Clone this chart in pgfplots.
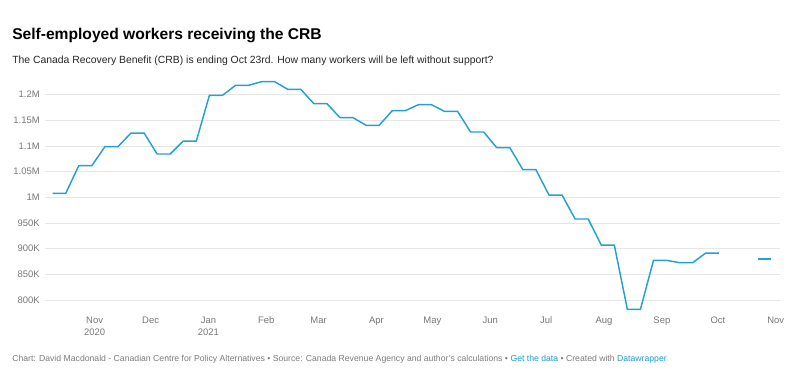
\documentclass[border=0pt]{standalone}
\usepackage{pgfplots}
\pgfplotsset{compat=1.18}
\usepackage{fontspec}
\setmainfont{Liberation Sans}
\definecolor{dwblue}{RGB}{38,160,212}
\definecolor{linkblue}{RGB}{30,155,215}
\definecolor{ticktxt}{RGB}{120,120,120}
\definecolor{gridc}{RGB}{230,230,230}
\definecolor{foot}{RGB}{125,125,125}
\begin{document}
\begin{tikzpicture}
\useasboundingbox[fill=white] (0,0) rectangle (600pt,-289.5pt);
\node[anchor=base west, inner sep=0pt, font=\fontsize{11.7}{14}\selectfont\bfseries] at (9pt,-29.25pt) {Self-employed workers receiving the CRB};
\node[anchor=base west, inner sep=0pt, font=\fontsize{7.8}{10}\selectfont, text=black!85] at (9pt,-47.5pt) {The Canada Recovery Benefit (CRB) is ending Oct 23rd. How many workers will be left without support?};
\begin{axis}[
  at={(33.75pt,-232.7pt)}, anchor=south west,
  scale only axis, width=551.25pt, height=173.25pt,
  xmin=-26.6, xmax=367.3, ymin=780, ymax=1230,
  axis line style={draw=none},
  major tick length=0pt,
  ymajorgrids, grid style={gridc, line width=0.75pt},
  ytick={800,850,900,950,1000,1050,1100,1150,1200},
  yticklabels={800K,850K,900K,950K,1M,1.05M,1.1M,1.15M,1.2M},
  xtick={0,30,61,92,120,151,181,212,242,273,304,334,365},
  xticklabels={Nov\\2020,Dec,Jan\\2021,Feb,Mar,Apr,May,Jun,Jul,Aug,Sep,Oct,Nov},
  tick label style={font=\fontsize{7.1}{9}\selectfont, text=ticktxt},
  yticklabel style={anchor=east, inner sep=0pt, xshift=-3.75pt},
  xticklabel style={anchor=north, inner sep=0pt, yshift=-4.5pt, align=center},
  clip=false,
]
\addplot[dwblue, line width=1.1pt] coordinates {
(-22.5,1007.8) (-15.5,1007.8) (-8.5,1061.7) (-1.5,1061.7)
(5.5,1098.7) (12.5,1098.7) (19.5,1125.3) (26.5,1125.3)
(33.5,1084.4) (40.5,1084.4) (47.5,1109.7) (54.5,1109.7)
(61.5,1198.7) (68.5,1198.7) (75.5,1218.2) (82.5,1218.2)
(89.5,1225.3) (96.5,1225.3) (103.5,1210.4) (110.5,1210.4)
(117.5,1182.5) (124.5,1182.5) (131.5,1155.2) (138.5,1155.2)
(145.5,1140.3) (152.5,1140.3) (159.5,1168.8) (166.5,1168.8)
(173.5,1180.5) (180.5,1180.5) (187.5,1167.5) (194.5,1167.5)
(201.5,1127.3) (208.5,1127.3) (215.5,1096.7) (222.5,1096.7)
(229.5,1053.9) (236.5,1053.9) (243.5,1004.5) (250.5,1004.5)
(257.5,957.8) (264.5,957.8) (271.5,907.1) (278.5,907.1)
(285.5,781.8) (292.5,781.8) (299.5,877.3) (306.5,877.3)
(313.5,872.7) (320.5,872.7) (327.5,891.5) (334.5,891.5)
};
\addplot[dwblue, line width=1.1pt] coordinates {
(355.5,879.8) (362.5,879.8)
};
\end{axis}
\node[anchor=base west, inner sep=0pt, font=\fontsize{6.5}{8}\selectfont, text=foot] at (9pt,-271.3pt) {Chart: David Macdonald - Canadian Centre for Policy Alternatives • Source: Canada Revenue Agency and author's calculations • \textcolor{linkblue}{Get the data} • Created with \textcolor{linkblue}{Datawrapper}};
\end{tikzpicture}
\end{document}
